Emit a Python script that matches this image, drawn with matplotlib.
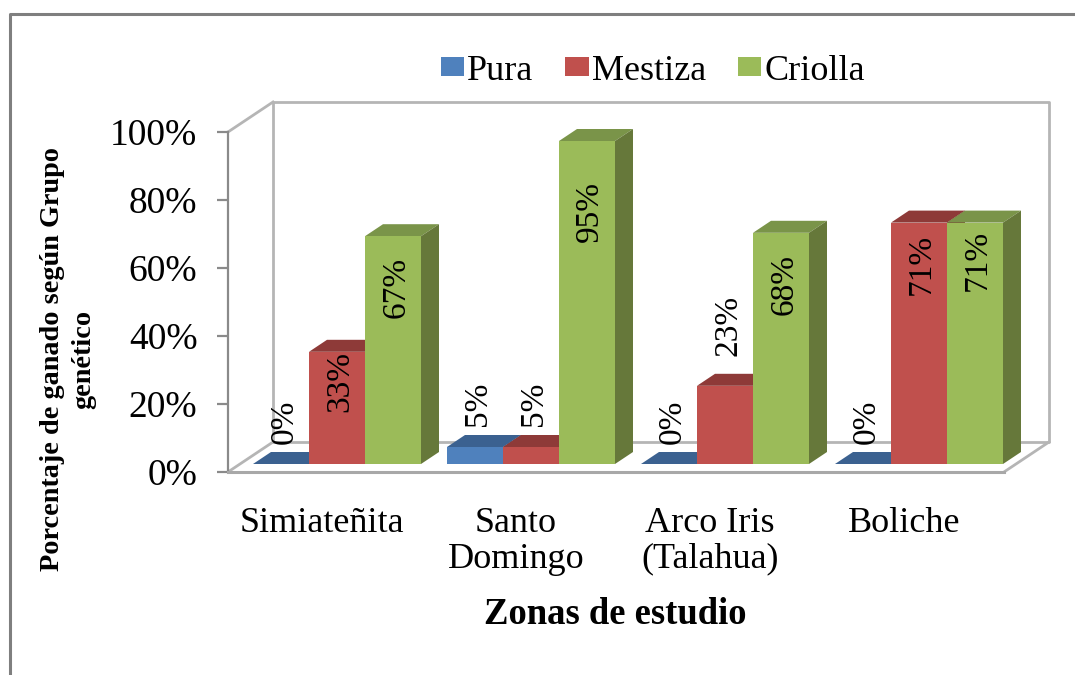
import numpy as np
import matplotlib
matplotlib.use('Agg')
import matplotlib.pyplot as plt
from matplotlib.lines import Line2D

zonas = ['Simiateñita', 'Santo\nDomingo', 'Arco Iris\n(Talahua)', 'Boliche']
pura = [0, 5, 0, 0]
mestiza = [33, 5, 23, 71]
criolla = [67, 95, 68, 71]
etiq_pura = ['0%', '5%', '0%', '0%']
etiq_mestiza = ['33%', '5%', '23%', '71%']
etiq_criolla = ['67%', '95%', '68%', '71%']
# altura (en %) donde va el centro de cada etiqueta
alto_pura = [12.3, 17.8, 12.3, 12.3]
alto_mestiza = [24.3, 17.8, 40.8, 58.8]
alto_criolla = [51.8, 74.3, 52.8, 59.8]

plt.rcParams['font.family'] = ['Liberation Serif', 'DejaVu Serif']

W, H = 1075, 675
fig = plt.figure(figsize=(W/100, H/100), dpi=100)
ax = fig.add_axes([228/W, (H-472)/H, 776/W, 340/H])
ax.set_xlim(0, 4)
ax.set_ylim(0, 100)
ax.patch.set_alpha(0)

# pasar pixeles a unidades de datos
px = 4/776
py = 100/340
dx_wall, dy_wall = 45*px, 30*py
dx0, dy0 = 12*px, 8*py
dx_bar, dy_bar = 18*px, 12*py
ancho = 56*px

wall = '#b5b5b5'
ax.plot([dx_wall, 4+dx_wall, 4+dx_wall, dx_wall, dx_wall],
        [dy_wall, dy_wall, 100+dy_wall, 100+dy_wall, dy_wall],
        color=wall, lw=2, clip_on=False, zorder=1)
ax.plot([0, dx_wall], [100, 100+dy_wall], color=wall, lw=2, clip_on=False, zorder=1)
ax.plot([0, dx_wall], [0, dy_wall], color=wall, lw=2, clip_on=False, zorder=1)
ax.plot([4, 4+dx_wall], [0, dy_wall], color=wall, lw=2, clip_on=False, zorder=1)

series = [
    (pura, 'Pura', '#4F81BD', '#3B6190', '#2F4E74', -1),
    (mestiza, 'Mestiza', '#C0504D', '#8E3A38', '#77302E', 0),
    (criolla, 'Criolla', '#9BBB59', '#7A9449', '#66783A', 1),
]
x = np.arange(4) + 0.5 + dx0
z = 3
handles = []
for vals, nombre, c_f, c_t, c_s, k in series:
    xs = x + k*ancho
    for xi, v in zip(xs, vals):
        l, r = xi-ancho/2, xi+ancho/2
        t = dy0 + v
        ax.fill([l, r, r+dx_bar, l+dx_bar], [t, t, t+dy_bar, t+dy_bar],
                color=c_t, lw=0, clip_on=False, zorder=z)
        ax.fill([r, r+dx_bar, r+dx_bar, r], [dy0, dy0+dy_bar, t+dy_bar, t],
                color=c_s, lw=0, clip_on=False, zorder=z)
    b = ax.bar(xs, vals, ancho, bottom=dy0, color=c_f, label=nombre, zorder=z+0.5, lw=0)
    handles.append(b)
    z += 1

for xs_k, etiq, alto in [(-1, etiq_pura, alto_pura), (0, etiq_mestiza, alto_mestiza),
                         (1, etiq_criolla, alto_criolla)]:
    for xi, e, a in zip(x + xs_k*ancho, etiq, alto):
        ax.text(xi + 3*px, a + dy0, e, rotation=90, ha='center', va='center', fontsize=24,
                color='black', zorder=10, clip_on=False)

for s in ['top', 'right']:
    ax.spines[s].set_visible(False)
ax.spines['left'].set_color('#8a8a8a')
ax.spines['left'].set_linewidth(1.6)
ax.spines['bottom'].set_color('#a8a8a8')
ax.spines['bottom'].set_linewidth(2.2)

ax.set_yticks(np.arange(0, 101, 20))
ax.set_yticklabels(['%d%%' % v for v in range(0, 101, 20)], fontsize=27)
ax.tick_params(axis='y', length=8, width=1.6, color='#8a8a8a', pad=14)
ax.set_xticks(np.arange(4) + 0.5 - 3*px)
ax.set_xticklabels(zonas, fontsize=26, linespacing=1.12)
ax.tick_params(axis='x', length=0, pad=25)

fig.text(615/W, 1-614/H, 'Zonas de estudio', fontsize=26.4, fontweight='bold',
         ha='center', va='center')
fig.text(68/W, 1-359/H, 'Porcentaje de ganado según Grupo\ngenético', fontsize=20.3,
         fontweight='bold', rotation=90, ha='center', va='center', multialignment='center',
         linespacing=1.3)

ax.legend(handles=handles, ncol=3, frameon=False, fontsize=26,
          loc='center', bbox_to_anchor=(653/W, 1-71/H), bbox_transform=fig.transFigure,
          handlelength=0.64, handleheight=0.45, handletextpad=0.1, columnspacing=0.88,
          borderpad=0, borderaxespad=0)

fig.add_artist(Line2D([9.5/W, 9.5/W, 1], [0, 1-13.5/H, 1-13.5/H], color='#7f7f7f', lw=2.2,
                      transform=fig.transFigure))

fig.savefig('out.png', dpi=100, facecolor='white')
